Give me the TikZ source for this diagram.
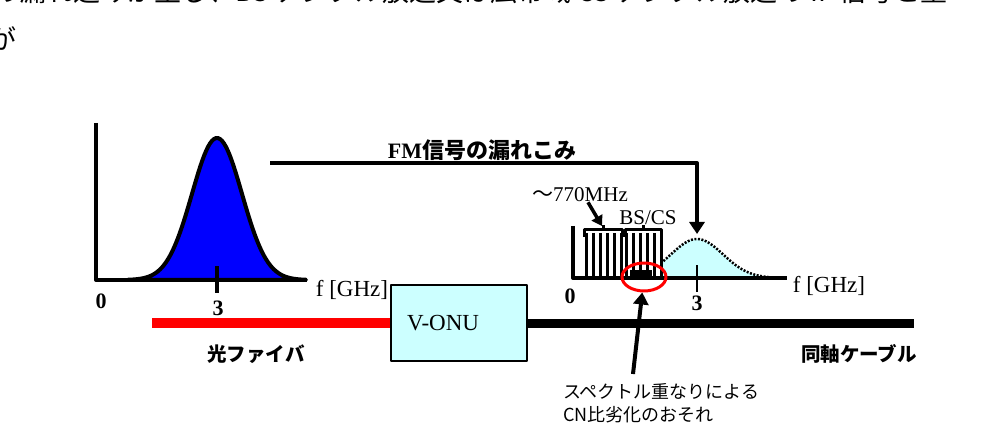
\documentclass[tikz,border=0pt]{standalone}
\usepackage{fontspec}
\setmainfont{Liberation Serif}
\newfontfamily\jp{Noto Sans CJK JP}
\usetikzlibrary{positioning,arrows.meta,shapes.geometric}
\definecolor{paleCyan}{HTML}{CCFFFF}
\definecolor{pureBlue}{HTML}{0000FF}
\definecolor{pureRed}{HTML}{FF0000}

\begin{document}
\begin{tikzpicture}[x=1pt, y=-1pt, line join=round,
  every node/.style={inner sep=0pt, font=\fontsize{21}{24}\selectfont},
  axis/.style={line width=4pt},
  stripe/.style={line width=3pt},
  numlabel/.style={font=\bfseries\fontsize{22}{24}\selectfont},
  freqlabel/.style={font=\fontsize{23}{26}\selectfont},
  jplabel/.style={font=\jp\bfseries\fontsize{19.5}{22}\selectfont},
  bigarrow/.style={line width=4pt, -{Triangle[width=15pt,length=12pt]}},
  midarrow/.style={line width=3.5pt, -{Triangle[width=12pt,length=10pt]}}]
  \useasboundingbox (0,0) rectangle (989,425);

  % Body text (cut off)
  \node[anchor=base west, font=\jp\fontsize{27}{30}\selectfont] (BodyLine) at (-8,2)
    {の漏れ込みが生じ、BS デジタル放送又は広帯域 CS デジタル放送の IF 信号と重};
  \node[anchor=base west, font=\jp\fontsize{27}{30}\selectfont] (BodyNext) at (-11,50) {が};

  % Optical spectrum
  \draw[line width=4pt, fill=pureBlue] plot[domain=128:306, samples=90]
    (\x, {280-142*exp(-(\x-217)*(\x-217)/1250)}) -- cycle;
  \draw[axis] (96,123) |- (307,280);
  \draw[axis] (217,266) -- (217,293);
  \node[numlabel] (LeftZero) at (101,301) {0};
  \node[numlabel] (LeftThree) at (218,308) {3};
  \node[freqlabel] (LeftFreq) at (352,290) {f [GHz]};

  % Coax spectrum
  \fill[paleCyan] plot[domain=615:787, samples=90]
    (\x, {278-39*exp(-(\x-697)*(\x-697)/1352)}) -- cycle;
  \draw[line width=2.5pt, dash pattern=on 2pt off 1.5pt] plot[domain=655:782, samples=90]
    (\x, {278-39*exp(-(\x-697)*(\x-697)/1352)});
  \fill[white] (585,233) rectangle (622,278);
  \fill[white] (625,233) rectangle (661,278);
  \foreach \s in {586,593,...,621} \draw[stripe] (\s,233) -- (\s,278);
  \foreach \s in {626,633,...,661} \draw[stripe] (\s,233) -- (\s,278);
  \fill (630,270) rectangle (652,278);
  \draw[stripe] (584,237) |- (603,230) -| (622,237);
  \draw[stripe] (603,230) -- (603,225);
  \draw[stripe] (625,237) |- (643,230) -| (661,237);
  \draw[stripe] (643,230) -- (643,225);
  \draw[axis] (573,226) |- (787,278);
  \draw[line width=2.5pt] (697,265) -- (697,292);
  \node[numlabel] (RightZero) at (570,296) {0};
  \node[numlabel] (RightThree) at (697,303) {3};
  \node[freqlabel] (RightFreq) at (829,286) {f [GHz]};
  \node (LowBand) at (580,195) {{\jp ～}770MHz};
  \node (SatBand) at (648,218) {BS/CS};
  \node[ellipse, draw=pureRed, line width=3pt, minimum width=44pt, minimum height=28pt] (Overlap) at (644,277) {};
  \coordinate (LowBandTop) at (602,226);

  % V-ONU and cables
  \node[draw, fill=paleCyan, line width=2.5pt, minimum height=76pt, text width=104pt,
    inner xsep=16pt, align=left, font=\fontsize{23}{26}\selectfont] (VONU) at (459,323) {V-ONU};
  \coordinate (FibreEnd) at (152,323);
  \coordinate (CoaxEnd) at (914,323);
  \node[jplabel] (Fibre) at (256,354) {光ファイバ};
  \node[jplabel] (Coax) at (859,354) {同軸ケーブル};
  \node[anchor=west, align=left, font=\jp\fontsize{18}{23}\selectfont] (CNLabel) at (563,403)
    {スペクトル重なりによる\\CN比劣化のおそれ};
  \coordinate (CNTail) at (633,374);

  % Leak of FM signal
  \node[font=\fontsize{22}{26}\selectfont] (LeakLabel) at (482,150) {\textbf{FM}{\jp\bfseries 信号の漏れこみ}};
  \coordinate (FMStart) at (270,163);
  \coordinate (LeakTip) at (697,234);

  % Connections
  \draw[pureRed, line width=10pt] (FibreEnd) -- (VONU.west);
  \draw[line width=9pt] (VONU.east) -- (CoaxEnd);
  \draw[bigarrow] (FMStart) -| (LeakTip);
  \draw[midarrow] ([xshift=8pt]LowBand.south) -- (LowBandTop);
  \draw[bigarrow] (CNTail) -- (Overlap);
\end{tikzpicture}
\end{document}
